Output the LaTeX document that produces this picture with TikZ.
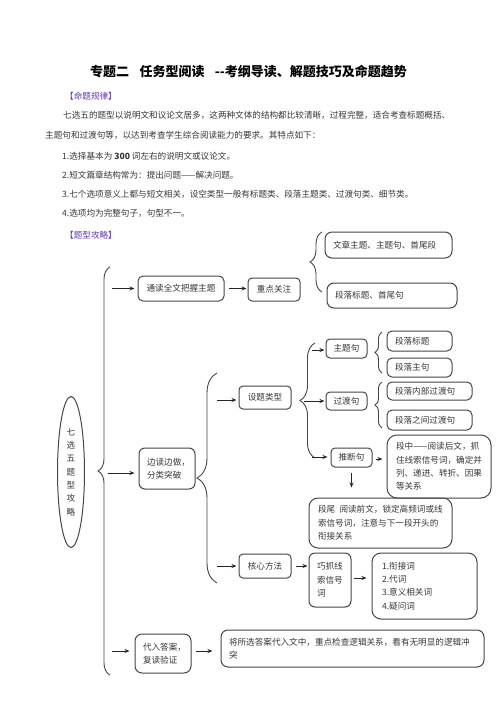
\documentclass[tikz,border=0pt]{standalone}
\usepackage{fontspec}
\setmainfont{Noto Sans CJK SC}
\usetikzlibrary{arrows.meta,decorations.pathreplacing,shapes.geometric,calc}
\definecolor{bcol}{RGB}{70,70,70}
\definecolor{tcol}{RGB}{55,55,55}
\definecolor{pcol}{RGB}{95,55,185}
\newcommand\myfs{\fontsize{8.6}{13.3}\selectfont}
\begin{document}
\begin{tikzpicture}[x=1pt,y=-1pt,
  bx/.style={draw=bcol, line width=1pt, rounded corners=4pt, inner sep=0pt, text=tcol, font=\myfs, align=center},
  lbx/.style={bx, align=left, rounded corners=7pt},
  ptext/.style={anchor=west, inner sep=0pt, font=\myfs, text=tcol},
  arr/.style={-{Stealth[length=5pt,width=4pt]}, line width=1pt, draw=black!85},
  brc/.style={decorate, decoration={brace, amplitude=#1}, line width=0.9pt, draw=bcol}]
\useasboundingbox (0,0) rectangle (496,702);
\fill[white] (0,0) rectangle (496,702);

% heading and introduction
\node[anchor=west, inner sep=0pt, font=\fontsize{13}{15}\selectfont\bfseries] (title) at (90,71.5)
  {专题二\hspace{0.8em}任务型阅读\hspace{0.8em}-{}-考纲导读、解题技巧及命题趋势};
\node[ptext, text=pcol] (lab1) at (65,96) {【命题规律】};
\node[ptext] (p1) at (63,115) {七选五的题型以说明文和议论文居多，这两种文体的结构都比较清晰，过程完整，适合考查标题概括、};
\node[ptext] (p2) at (45,135) {主题句和过渡句等，以达到考查学生综合阅读能力的要求。其特点如下：};
\node[ptext] (p3) at (62,156) {1.选择基本为 \textbf{300} 词左右的说明文或议论文。};
\node[ptext] (p4) at (62,175) {2.短文篇章结构常为：提出问题——解决问题。};
\node[ptext] (p5) at (62,194) {3.七个选项意义上都与短文相关，设空类型一般有标题类、段落主题类、过渡句类、细节类。};
\node[ptext] (p6) at (62,213) {4.选项均为完整句子，句型不一。};
\node[ptext, text=pcol] (lab2) at (65,235) {【题型攻略】};

% root
\node[ellipse, draw=bcol, line width=1pt, minimum width=27, minimum height=151, inner sep=0pt,
  font=\myfs, text=tcol, align=center] (root) at (71,472) {七\\选\\五\\题\\型\\攻\\略};

% boxes
\node[bx, minimum width=86, minimum height=25, rounded corners=5pt] (tongdu) at (181,288.5) {通读全文把握主题};
\node[bx, minimum width=52, minimum height=23] (zhongdian) at (274,289.5) {重点关注};
\node[lbx, text width=111, minimum width=127, minimum height=26] (wenzhang) at (388.5,245) {文章主题、主题句、首尾段};
\node[lbx, text width=114, minimum width=130, minimum height=25] (shouwei) at (392,295.5) {段落标题、首尾句};

\node[lbx, text width=40, minimum width=56, minimum height=41, rounded corners=6pt] (biandu) at (167,468.5) {边读边做，\\分类突破};
\node[bx, minimum width=52, minimum height=23] (sheti) at (265,397.5) {设题类型};
\node[bx, minimum width=52, minimum height=24] (hexin) at (265,566) {核心方法};

\node[bx, minimum width=41, minimum height=19] (zhuti) at (346.5,348.5) {主题句};
\node[bx, minimum width=41, minimum height=18] (guodu) at (346.5,401) {过渡句};
\node[bx, minimum width=41, minimum height=19] (tuiduan) at (351.5,457.5) {推断句};

\node[lbx, text width=49, minimum width=65, minimum height=20, rounded corners=5pt] (dlbt) at (419.5,341) {段落标题};
\node[lbx, text width=49, minimum width=65, minimum height=19, rounded corners=5pt] (dlzj) at (419.5,367.5) {段落主句};
\node[lbx, text width=69, minimum width=85, minimum height=18, rounded corners=5pt] (dlnb) at (429.5,391) {段落内部过渡句};
\node[lbx, text width=69, minimum width=85, minimum height=20, rounded corners=5pt] (dlzj2) at (429.5,420) {段落之间过渡句};

\node[lbx, text width=86, minimum width=104, minimum height=63, rounded corners=10pt] (duanzhong) at (439,466.5)
  {段中——阅读后文，抓\\住线索信号词，确定并\\列、递进、转折、因果\\等关系};
\node[lbx, text width=125, minimum width=143, minimum height=50, rounded corners=9pt] (duanwei) at (380.5,523)
  {段尾\hspace{0.5em}阅读前文，锁定高频词或线\\索信号词，注意与下一段开头的\\衔接关系};
\node[lbx, text width=26, minimum width=42, minimum height=54, rounded corners=6pt] (qiaozhua) at (330,580) {巧抓线\\索信号\\词};
\node[lbx, text width=85, minimum width=105, minimum height=66, rounded corners=9pt] (list) at (424.5,586)
  {1.衔接词\\2.代词\\3.意义相关词\\4.疑问词};

\node[lbx, text width=40, minimum width=56, minimum height=39] (dairu) at (163,653.5) {代入答案，\\复读验证};
\node[lbx, text width=247, minimum width=263, minimum height=37] (jiang) at (352.5,648.5)
  {将所选答案代入文中，重点检查逻辑关系，看有无明显的逻辑冲\\突};

% braces
\draw[brc=12pt] (110,675) -- (110,267);
\draw[brc=12pt] (322,292) -- (322,232);
\draw[brc=20pt] (217,583) -- (217,373);
\draw[brc=15pt] (315,458) -- (315,343);
\draw[brc=7pt] (382,373) -- (382,332);
\draw[brc=7pt] (382,428) -- (382,382);

% connector start points on braces
\coordinate (m1) at (112,288.5);
\coordinate (m2) at (108,473);
\coordinate (m3) at (112,651);
\coordinate (b1) at (217,400);
\coordinate (b2) at (217,566);
\coordinate (c1) at (312,350);
\coordinate (c2) at (304,401);
\coordinate (c3) at (312,457);

% arrows
\draw[arr, shorten >=3pt] (m1) -- (m1 -| tongdu.west);
\draw[arr, shorten >=4pt] (m2) -- (m2 -| biandu.west);
\draw[arr, shorten >=5pt] (m3) -- (m3 -| dairu.west);
\draw[arr, shorten <=4pt, shorten >=1pt] (tongdu.east) -- (tongdu.east -| zhongdian.west);
\draw[arr, shorten >=2pt] (b1) -- (b1 -| sheti.west);
\draw[arr, shorten >=2pt] (b2) -- (b2 -| hexin.west);
\draw[arr, shorten >=1pt] (c1) -- (c1 -| zhuti.west);
\draw[arr, shorten >=1pt] (c2) -- (c2 -| guodu.west);
\draw[arr, shorten >=3pt] (c3) -- (c3 -| tuiduan.west);
\draw[arr, shorten <=3pt, shorten >=4pt] ($(tuiduan.east)+(0,1.5)$) -- ($(tuiduan.east -| duanzhong.west)+(0,1.5)$);
\draw[arr, shorten <=5pt, shorten >=10pt] (tuiduan.south) -- (tuiduan.south |- duanwei.north);
\draw[arr, shorten <=4pt, shorten >=1pt] (hexin.east) -- (hexin.east -| qiaozhua.west);
\draw[arr, shorten <=2pt, shorten >=5pt] ($(qiaozhua.east)+(0,-2)$) -- ($(qiaozhua.east -| list.west)+(0,-2)$);
\draw[arr, shorten <=4pt, shorten >=8pt] ($(dairu.east)+(0,-2.5)$) -- ($(dairu.east -| jiang.west)+(0,-2.5)$);
\end{tikzpicture}
\end{document}
